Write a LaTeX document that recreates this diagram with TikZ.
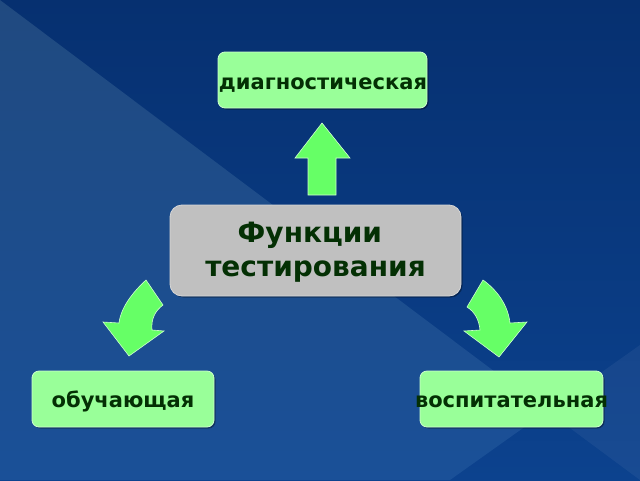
\documentclass[tikz,border=0pt]{standalone}
\usepackage{fontspec}
\setmainfont{DejaVu Sans}
\usetikzlibrary{shadows}
\definecolor{bgdark}{RGB}{6,48,112}
\definecolor{bgdark2}{RGB}{12,66,142}
\definecolor{bglight}{RGB}{32,74,128}
\definecolor{bglight2}{RGB}{26,80,152}
\definecolor{boxgreen}{RGB}{153,255,153}
\definecolor{boxedge}{RGB}{205,255,205}
\definecolor{arrowgreen}{RGB}{102,255,102}
\definecolor{txtgreen}{RGB}{4,48,4}
\definecolor{greybox}{RGB}{192,192,192}
\definecolor{greyedge}{RGB}{215,215,215}
\begin{document}
\begin{tikzpicture}[x=1pt,y=-1pt,
  boxshadow/.style={drop shadow={shadow xshift=1.5pt,shadow yshift=-1.5pt,opacity=0.35,fill=black}},
  gbox/.style={draw=boxedge, line width=0.8pt, fill=boxgreen, rounded corners=7pt,
    inner sep=0pt, minimum height=56pt, boxshadow},
  cbox/.style={draw=greyedge, line width=0.8pt, fill=greybox, rounded corners=12pt,
    inner sep=0pt, minimum width=291pt, minimum height=91pt, boxshadow},
  lbl/.style={text=txtgreen, font=\fontsize{21}{25}\selectfont\bfseries, inner sep=0pt, anchor=base},
  clbl/.style={text=txtgreen, font=\fontsize{28}{34}\selectfont\bfseries, align=center, inner sep=0pt},
  blockarrow/.style={fill=arrowgreen, draw=boxedge, line width=0.6pt, line join=miter}
]
\useasboundingbox (0,0) rectangle (640,480);
% background
\shade[top color=bgdark, bottom color=bgdark2] (0,0) rectangle (640,480);
\shade[top color=bglight, bottom color=bglight2] (0,0) -- (547,411) -- (450,480) -- (0,480) -- cycle;
\fill[white, opacity=0.05] (547,411) -- (640,345) -- (640,480) -- cycle;

% boxes
\node[gbox, minimum width=209pt] (diag) at (322.5,80) {};
\node[lbl] (diagT) at (323,89) {диагностическая};
\node[cbox] (center) at (315.5,250.5) {};
\node[clbl] (centerT) at ([yshift=-2pt]center.center) {Функции\kern0.4em\\тестирования};
\node[gbox, minimum width=182pt] (obuch) at (123,399) {};
\node[lbl] (obuchT) at (123,407) {обучающая};
\node[gbox, minimum width=183pt] (vosp) at (511.5,399) {};
\node[lbl] (vospT) at (511.5,407) {воспитательная};

% block arrows
\draw[blockarrow] (308,195) -- (308,158) -- (295,158) -- (322,123) -- (350,158)
  -- (336,158) -- (336,195) -- cycle;
\draw[blockarrow] (146,280) .. controls (133,292) and (121,307) .. (119,323)
  -- (103,322) -- (129,356) -- (164,331) -- (152,330)
  .. controls (151,319) and (155,311) .. (163,305) -- cycle;
\draw[blockarrow] (483,280) .. controls (497,290) and (508,305) .. (510,323)
  -- (527,322) -- (499,357) -- (464,331) -- (480,330)
  .. controls (479,320) and (475,312) .. (467,307) -- cycle;
\end{tikzpicture}
\end{document}
